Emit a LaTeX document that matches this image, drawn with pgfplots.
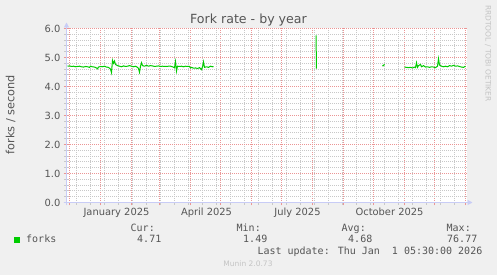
\documentclass[border=0pt]{standalone}
\usepackage{fontspec}
\setmainfont{DejaVu Sans}
\newfontfamily\monofont{DejaVu Sans Mono}
\usepackage{pgfplots}
\pgfplotsset{compat=1.18}
\usetikzlibrary{arrows.meta}
\definecolor{bgc}{HTML}{F0F0F0}
\definecolor{fontcol}{HTML}{555555}
\definecolor{mgrid}{HTML}{EB9595}
\definecolor{gridc}{HTML}{C8C8C8}
\definecolor{axisc}{HTML}{C8CCF6}
\definecolor{forkc}{HTML}{00CC00}
\definecolor{wmark}{HTML}{C4C4C4}
\begin{document}
\begin{tikzpicture}[x=1pt,y=1pt]
\fill[bgc] (0,0) rectangle (497,275);
\begin{axis}[
  at={(66.5pt,72.5pt)}, anchor=south west,
  scale only axis, width=400pt, height=174pt,
  xmin=-34, xmax=366, ymin=0, ymax=6,
  axis background/.style={fill=white},
  axis lines=left,
  axis line style={draw=axisc, line width=1pt},
  x axis line style={-{Triangle[length=5pt,width=5pt]}, shorten >=-6pt, shorten <=-3pt},
  y axis line style={-{Triangle[length=5pt,width=5pt]}, shorten >=-6pt, shorten <=-3pt},
  xtick={-31,0,31,59,90,120,151,181,212,243,273,304,334,365},
  xticklabels={,,,,,,,,,,,,,},
  minor xtick={-24,-10,4,18,32,46,60,74,88,102,116,130,144,158,172,186,200,214,228,242,256,270,284,298,312,326,340,354},
  extra x ticks={16,106,197,289},
  extra x tick labels={January 2025,April 2025,July 2025,October 2025},
  extra x tick style={grid=none, major tick length=0pt},
  ytick={0,1,2,3,4,5,6},
  minor y tick num=4,
  grid=both,
  major grid style={color=mgrid, dash pattern=on 1pt off 1pt, dash phase=0.5pt, line width=1pt},
  minor grid style={color=gridc, dash pattern=on 1pt off 1pt, dash phase=0.5pt, line width=1pt},
  tick align=outside,
  major tick length=3pt, minor tick length=2.5pt,
  major tick style={color=mgrid, line width=1pt},
  minor tick style={color=gridc, line width=1pt},
  /pgf/number format/assume math mode=true,
  yticklabel={\pgfmathprintnumber[fixed,fixed zerofill,precision=1]{\tick}},
  ticklabel style={font=\fontsize{9.9}{11}\selectfont, text=fontcol},
  yticklabel style={inner sep=0pt, xshift=-3pt},
  xticklabel style={inner sep=0pt, yshift=-5pt},
  clip=true,
]
\addplot[color=forkc, line width=1pt] coordinates {
(-33,4.70) (-31,4.71) (-29,4.69) (-27,4.70) (-25,4.68) (-23,4.69) (-21,4.70)
(-19,4.68) (-17,4.67) (-15,4.69) (-13,4.68) (-11,4.66) (-10,4.70) (-8,4.68)
(-6,4.67) (-4,4.64) (-3,4.61) (-2,4.67) (0,4.69) (2,4.68) (4,4.70) (6,4.67)
(8,4.66) (10,4.60) (11,4.48) (12,4.90) (13,4.80) (14,4.88) (15,4.76) (17,4.72)
(19,4.70) (21,4.68) (23,4.71) (25,4.69) (27,4.70) (29,4.72) (31,4.70) (33,4.68)
(35,4.70) (37,4.66) (38,4.62) (39,4.49) (40,4.70) (41,4.82) (42,4.72) (44,4.70)
(46,4.73) (48,4.70) (50,4.72) (52,4.71) (54,4.69) (56,4.70) (58,4.71) (60,4.69)
(62,4.70) (64,4.69) (66,4.69) (68,4.70) (70,4.70) (72,4.68) (74,4.65) (75,4.86)
(76,4.53) (77,4.70) (79,4.69) (81,4.70) (83,4.68) (85,4.70) (87,4.69) (89,4.69)
(90,4.64) (91,4.66) (93,4.63) (95,4.64) (97,4.62) (99,4.65) (101,4.58) (102,4.68)
(103,4.85) (104,4.66) (106,4.68) (108,4.66) (110,4.70) (112,4.68) (113,4.69)
};
\addplot[color=forkc, line width=1pt] coordinates {(215.6,5.76) (215.9,4.62)};
\addplot[color=forkc, line width=1.2pt] coordinates {(282,4.70) (284,4.76)};
\addplot[color=forkc, line width=1pt] coordinates {
(304,4.67) (306,4.66) (308,4.65) (310,4.66) (312,4.64) (314,4.67) (315,4.65)
(316,4.82) (317,4.66) (318,4.72) (320,4.76) (321,4.68) (323,4.72) (325,4.67)
(327,4.68) (329,4.66) (331,4.68) (333,4.67) (335,4.65) (337,4.70) (338,4.96)
(339,4.74) (341,4.70) (343,4.68) (345,4.70) (347,4.68) (349,4.72) (351,4.70)
(353,4.73) (355,4.70) (357,4.71) (359,4.69) (361,4.67) (363,4.66) (365,4.70)
};
\end{axis}
% title
\node[anchor=base, inner sep=0pt, text=fontcol, font=\fontsize{12.6}{14}\selectfont] at (248.5,251) {Fork rate - by year};
% y label
\node[rotate=90, inner sep=0pt, text=fontcol, font=\fontsize{11.3}{13}\selectfont] at (10.5,160.5) {forks / second};
% watermark right
\node[rotate=-90, inner sep=0pt, text=wmark, font=\fontsize{7.5}{9}\selectfont] at (488,221.5) {RRDTOOL / TOBI OETIKER};
% bottom munin
\node[anchor=base, inner sep=0pt, text=wmark, font=\fontsize{7.5}{9}\selectfont] at (248,8) {Munin 2.0.73};
% legend
\begin{scope}[every node/.style={inner sep=0pt, text=fontcol, font=\monofont\fontsize{10}{12}\selectfont}]
\node[anchor=base west] at (130.5,43) {Cur:};
\node[anchor=base west] at (236.5,43) {Min:};
\node[anchor=base west] at (341.5,43) {Avg:};
\node[anchor=base west] at (446.5,43) {Max:};
\node[anchor=base west] at (26,32) {forks};
\node[anchor=base east] at (161.5,32) {4.71};
\node[anchor=base east] at (267.5,32) {1.49};
\node[anchor=base east] at (372.5,32) {4.68};
\node[anchor=base east] at (477.5,32) {76.77};
\node[anchor=base east] at (482.5,20) {Last update: Thu Jan~~1 05:30:00 2026};
\end{scope}
\fill[forkc] (14,32) rectangle (20,38);
\pgfresetboundingbox
\path[use as bounding box] (0,0) rectangle (497,275);
\end{tikzpicture}
\end{document}
